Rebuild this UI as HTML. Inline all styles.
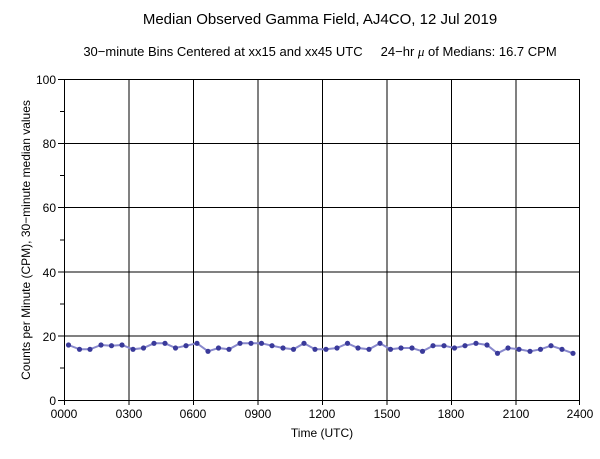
<!DOCTYPE html>
<html><head><style>body{margin:0;background:#fff}svg{display:block}text{font-family:"Liberation Sans",sans-serif;fill:#000}</style></head>
<body>
<svg width="600" height="459" xmlns="http://www.w3.org/2000/svg">
<rect width="600" height="459" fill="#fff"/>
<text x="320" y="24" font-size="15" text-anchor="middle">Median Observed Gamma Field, AJ4CO, 12 Jul 2019</text>
<text x="320" y="56" font-size="13" text-anchor="middle" xml:space="preserve">30−minute Bins Centered at xx15 and xx45 UTC     24−hr <tspan font-style="italic" font-family="Liberation Serif">μ</tspan> of Medians: 16.7 CPM</text>
<g stroke="#000" stroke-width="1" fill="none">
<rect x="64.5" y="79.5" width="515" height="321"/>
<path d="M129 79V400M193.5 79V400M258 79V400M322.5 79V400M387 79V400M451.5 79V400M516 79V400"/>
<path d="M64 143.5H580M64 207.5H580M64 272H580M64 336H580"/>
<path d="M60 111.5H64M60 175.5H64M60 240H64M60 304H64M60 368H64M58 79.5H64M58 143.5H64M58 207.5H64M58 272H64M58 336H64M58 400.5H64"/>
<path d="M64.5 400V405M129 400V405M193.5 400V405M258 400V405M322.5 400V405M387 400V405M451.5 400V405M516 400V405M579.5 400V405"/>
</g>
<g font-size="12" text-anchor="end">
<text x="56" y="84">100</text><text x="56" y="148">80</text><text x="56" y="212">60</text><text x="56" y="277">40</text><text x="56" y="341">20</text><text x="56" y="405">0</text>
</g>
<g font-size="12" text-anchor="middle">
<text x="64" y="418">0000</text><text x="129" y="418">0300</text><text x="193" y="418">0600</text><text x="258" y="418">0900</text><text x="322" y="418">1200</text><text x="387" y="418">1500</text><text x="451" y="418">1800</text><text x="516" y="418">2100</text><text x="580" y="418">2400</text>
</g>
<text x="322" y="437" font-size="12" text-anchor="middle">Time (UTC)</text>
<text transform="translate(30,240) rotate(-90)" font-size="12" text-anchor="middle">Counts per Minute (CPM), 30−minute median values</text>
<g id="d">
<polyline fill="none" stroke="#8888cc" stroke-width="2" points="68.5,345 79.5,349.3 90,349.3 101,345 111.5,345.7 122,345 133,349.3 143.5,348 154,343.3 165,343.3 175.5,348 186,345.7 197,343.3 208,351.3 218.5,348 229,349.3 240,343.3 251,343.3 261.5,343.3 272,345.7 283,348 293.5,349.3 304,343.3 315,349.3 326,349.3 337,348 347.5,343.3 358,348 369,349.3 380,343.3 390.5,349.3 401,348 412,348 422.5,351.3 433,345.7 444,345.7 454.5,348 465,345.7 476,343.3 487,345 497.5,353.3 508,348 519,349.3 530,351.3 540.5,349.3 551,345.7 562,349.3 573,353.3"/>
</g>
<g fill="#3a3a9a" id="pts"></g>
<script>
var p=document.querySelector('polyline').getAttribute('points').trim().split(' ');var g=document.getElementById('pts');
p.forEach(function(s){var a=s.split(',');var c=document.createElementNS('http://www.w3.org/2000/svg','circle');c.setAttribute('cx',a[0]);c.setAttribute('cy',a[1]);c.setAttribute('r','2.6');g.appendChild(c);});
</script>
</svg>
</body></html>
